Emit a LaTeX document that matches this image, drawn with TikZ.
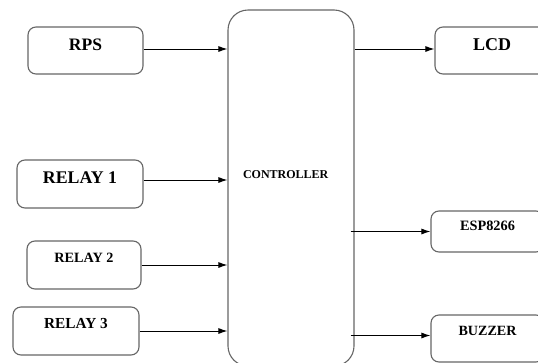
\documentclass[tikz,border=0pt]{standalone}
\usepackage{fontspec}
\setmainfont{Liberation Serif}
\usetikzlibrary{arrows.meta}

\tikzset{
  unit/.style={draw=black!60, line width=1.1pt, rounded corners=8pt, inner sep=0pt, font=\bfseries},
  link/.style={-{Latex[length=9pt,width=6pt]}, line width=1pt}
}
\newcommand{\fsz}[1]{\fontsize{#1}{#1}\selectfont}

\begin{document}
\begin{tikzpicture}[x=1pt,y=-1pt]
	\useasboundingbox (0,0) rectangle (538,362);
	\clip (0,0) rectangle (538,362);
	% controller in the middle
	\node[unit, rounded corners=20pt, minimum width=126pt, text width=96pt, inner xsep=15pt, align=left,
	      text height=168pt, text depth=188pt, font=\bfseries\fsz{12}] (ctrl) at (291,188) {CONTROLLER};
	% inputs
	\node[unit, minimum width=115pt, text height=23pt, text depth=24pt, font=\bfseries\fsz{17.5}] (rps) at (85.5,50.5) {RPS};
	\node[unit, minimum width=126pt, text height=23pt, text depth=25pt, font=\bfseries\fsz{17.8}] (relay1) at (80,184) {RELAY 1};
	\node[unit, minimum width=114pt, text height=21pt, text depth=27pt, font=\bfseries\fsz{14.2}] (relay2) at (84,265) {RELAY 2};
	\node[unit, minimum width=126pt, text height=21pt, text depth=27pt, font=\bfseries\fsz{15.3}] (relay3) at (76,331) {RELAY 3};
	% outputs
	\node[unit, minimum width=114pt, text height=23pt, text depth=24pt, font=\bfseries\fsz{18}] (lcd) at (492,50.5) {LCD};
	\node[unit, minimum width=113pt, text height=19pt, text depth=22pt, font=\bfseries\fsz{14.3}] (esp) at (487.5,231.5) {ESP8266};
	\node[unit, minimum width=113pt, text height=20pt, text depth=27pt, font=\bfseries\fsz{14.1}] (buzzer) at (487.5,338.5) {BUZZER};
	% connections
	\draw[link] ([yshift=1.5pt]rps.east) -- ([yshift=1.5pt]rps.east -| ctrl.west);
	\draw[link] ([yshift=4pt]relay1.east) -- ([yshift=4pt]relay1.east -| ctrl.west);
	\draw[link] (relay2.east) -- (relay2.east -| ctrl.west);
	\draw[link] (relay3.east) -- (relay3.east -| ctrl.west);
	\draw[link] ([yshift=1.5pt]ctrl.east |- lcd.west) -- ([yshift=1.5pt]lcd.west);
	\draw[link] ([xshift=-4pt]ctrl.east |- esp.west) -- (esp.west);
	\draw[link] ([xshift=-4pt,yshift=3pt]ctrl.east |- buzzer.west) -- ([yshift=3pt]buzzer.west);
\end{tikzpicture}
\end{document}
